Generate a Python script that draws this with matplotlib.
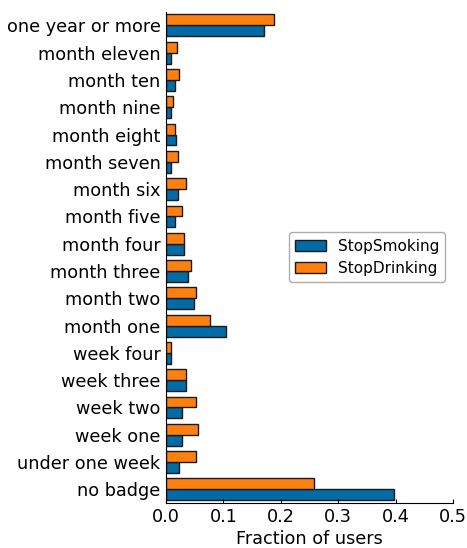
import numpy as np
import matplotlib.pyplot as plt

# categorie (dall'alto verso il basso)
badges = ['one year or more', 'month eleven', 'month ten', 'month nine', 'month eight',
          'month seven', 'month six', 'month five', 'month four', 'month three',
          'month two', 'month one', 'week four', 'week three', 'week two',
          'week one', 'under one week', 'no badge']

# frazioni di utenti
smoking = [0.170, 0.008, 0.016, 0.009, 0.018, 0.009, 0.021, 0.016, 0.031, 0.039,
           0.048, 0.104, 0.008, 0.034, 0.028, 0.028, 0.022, 0.398]
drinking = [0.189, 0.020, 0.023, 0.013, 0.016, 0.021, 0.034, 0.028, 0.032, 0.043,
            0.053, 0.077, 0.008, 0.034, 0.052, 0.055, 0.053, 0.258]

fig = plt.figure(figsize=(4.67, 5.48), dpi=100)
ax = fig.add_axes([0.3555, 0.0821, 0.6145, 0.8965])

y = np.arange(len(badges))[::-1]
h = 0.4
ax.barh(y - h / 2, smoking, height=h, color='#006BA4', edgecolor='#1a1a1a',
        linewidth=1, label='StopSmoking')
ax.barh(y + h / 2, drinking, height=h, color='#FF800E', edgecolor='#1a1a1a',
        linewidth=1, label='StopDrinking')

ax.set_yticks(y)
ax.set_yticklabels(badges, fontsize=12.7)
ax.set_ylim(-0.5, len(badges) - 0.5)
ax.set_xlim(0, 0.5)
ax.set_xticks([0.0, 0.1, 0.2, 0.3, 0.4, 0.5])
ax.set_xticklabels(['0.0', '0.1', '0.2', '0.3', '0.4', '0.5'], fontsize=12.7)
ax.set_xlabel('Fraction of users', fontsize=12.7, labelpad=3)

ax.spines['top'].set_visible(False)
ax.spines['right'].set_visible(False)
ax.tick_params(axis='x', direction='in', length=3)
ax.tick_params(axis='y', length=0, pad=4)

ax.legend(loc='center right', fontsize=11, edgecolor='0.6')

plt.savefig('out.png', dpi=100)
plt.close()
